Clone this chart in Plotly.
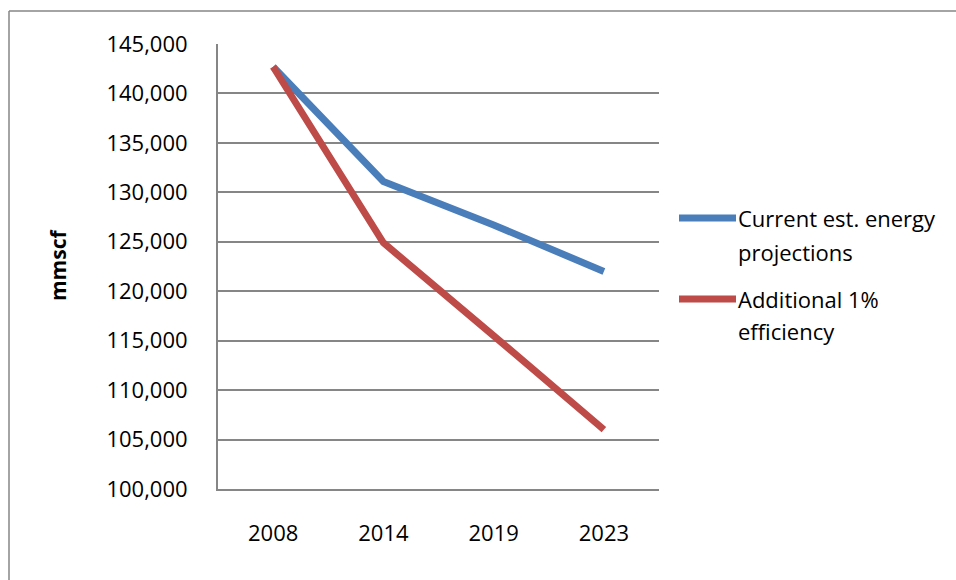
import plotly.graph_objects as go

# Natural gas demand projections (mmscf)
years = ["2008", "2014", "2019", "2023"]
current_proj = [142700, 131100, 126700, 122000]
additional_eff = [142700, 124900, 115500, 106000]
series_names = ["Current est. energy projections", "Additional 1% efficiency"]
legend_lines = [["Current est. energy", "projections"], ["Additional 1%", "efficiency"]]
y_ticks = list(range(100000, 145001, 5000))

BLUE = "#4a7ebb"
RED = "#be4b48"
GRID = "#868686"
FONT = "Open Sans"
FS = 22

W_PX, H_PX = 956, 580
L, R, T, B = 218, 297, 44, 91
PW, PH = W_PX - L - R, H_PX - T - B


def px_x(px):
    return (px - L) / PW


def px_y(py):
    return 1 - (py - T) / PH


fig = go.Figure()
for name, vals, color in zip(series_names, [current_proj, additional_eff], [BLUE, RED]):
    fig.add_trace(go.Scatter(
        x=years, y=vals, name=name, mode="lines",
        line=dict(color=color, width=7),
        showlegend=False,
    ))

shapes = [
    # outer chart border (left and top edges)
    dict(type="line", xref="paper", yref="paper", x0=px_x(9), x1=px_x(9),
         y0=px_y(11), y1=px_y(600), line=dict(color=GRID, width=1.5)),
    dict(type="line", xref="paper", yref="paper", x0=px_x(9), x1=px_x(960),
         y0=px_y(11), y1=px_y(11), line=dict(color=GRID, width=1.5)),
]
annotations = [
    dict(text="<b>mmscf</b>", textangle=-90, xref="paper", yref="paper",
         x=px_x(58), y=px_y(265), xanchor="center", yanchor="middle",
         showarrow=False, font=dict(family=FONT, size=21, color="black")),
]

# legend drawn beside the plot area
legend_y = [(218, 252), (299, 331)]
for color, lines, (y1, y2) in zip([BLUE, RED], legend_lines, legend_y):
    shapes.append(dict(type="line", xref="paper", yref="paper",
                       x0=px_x(679), x1=px_x(736), y0=px_y(y1), y1=px_y(y1),
                       line=dict(color=color, width=7)))
    for text, yy in zip(lines, (y1, y2)):
        annotations.append(dict(text=text, xref="paper", yref="paper",
                                x=px_x(736), y=px_y(yy), xanchor="left", yanchor="middle",
                                showarrow=False,
                                font=dict(family=FONT, size=FS, color="black")))

fig.update_layout(
    width=W_PX, height=H_PX,
    margin=dict(l=L, r=R, t=T, b=B),
    paper_bgcolor="white", plot_bgcolor="white",
    font=dict(family=FONT, size=FS, color="black"),
    shapes=shapes, annotations=annotations,
    xaxis=dict(type="category", showgrid=False, showline=True, linecolor=GRID,
               linewidth=2, ticks="", ticklabelstandoff=24, zeroline=False,
               range=[-0.5, 3.5]),
    yaxis=dict(range=[100000, 145000], tickvals=y_ticks, tickformat=",",
               showgrid=True, gridcolor=GRID, gridwidth=1.5,
               showline=True, linecolor=GRID, linewidth=2, ticks="",
               ticklabelstandoff=24, zeroline=False),
)

fig.write_html("out.html")
